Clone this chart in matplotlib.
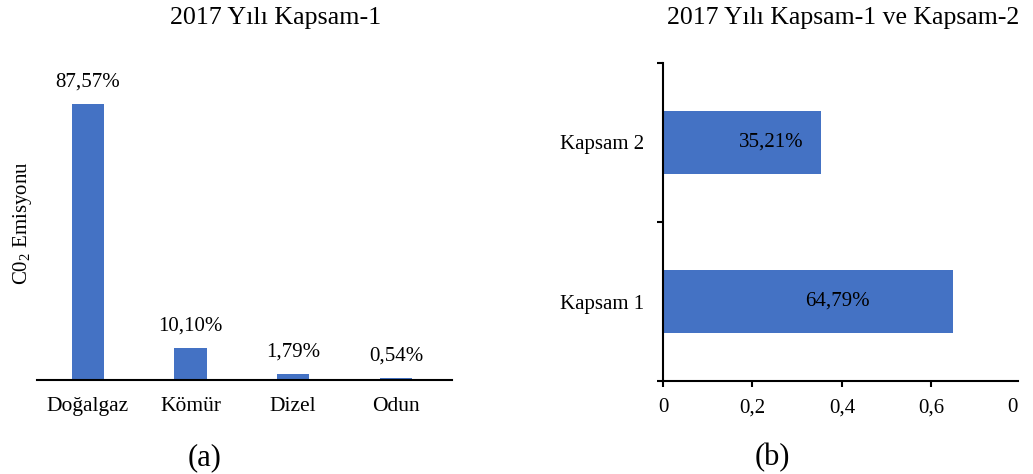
import matplotlib
matplotlib.use("Agg")
import matplotlib.pyplot as plt

plt.rcParams['font.family'] = ['Liberation Serif', 'DejaVu Serif']
plt.rcParams['mathtext.fontset'] = 'custom'
plt.rcParams['mathtext.rm'] = 'Liberation Serif'
plt.rcParams['mathtext.it'] = 'Liberation Serif:italic'

# Data
fuels = ["Doğalgaz", "Kömür", "Dizel", "Odun"]
fuel_share = [87.57, 10.10, 1.79, 0.54]
fuel_labels = ["87,57%", "10,10%", "1,79%", "0,54%"]

scopes = ["Kapsam 1", "Kapsam 2"]
scope_share = [0.6479, 0.3521]
scope_labels = ["64,79%", "35,21%"]
x_ticks_b = [0, 0.2, 0.4, 0.6, 0.782]
x_tick_labels_b = ["0", "0,2", "0,4", "0,6", "0"]

blue = "#4472C4"
fs = 15

fig = plt.figure(figsize=(10.33, 4.74), dpi=100)

# ---- (a) ----
ax1 = fig.add_axes([37/1033, 1-380/474, 415/1033, 320/474])
xs = list(range(len(fuels)))
ax1.bar(xs, fuel_share, width=0.315, color=blue)
ax1.set_xlim(-0.495, 3.546)
ax1.set_ylim(0, 320/3.152)
for s in ['top', 'right', 'left']:
    ax1.spines[s].set_visible(False)
ax1.spines['bottom'].set_linewidth(1.5)
ax1.set_yticks([])
ax1.set_xticks(xs)
ax1.set_xticklabels(fuels, fontsize=15.5)
ax1.tick_params(axis='x', length=0, pad=12)
for x, v, lab in zip(xs, fuel_share, fuel_labels):
    ax1.annotate(lab, (x, v), xytext=(0, 15.8), textcoords='offset points',
                 ha='center', va='center', fontsize=fs)
fig.text(276/1033, 1-18/474, "2017 Yılı Kapsam-1", ha='center', va='center', fontsize=18.7)
fig.text(22/1033, 1-223/474, r"C0$_{\mathregular{2}}$ Emisyonu", rotation=90,
         ha='center', va='center', fontsize=fs)
fig.text(205/1033, 1-458/474, "(a)", ha='center', va='center', fontsize=22)

# ---- (b) ----
ax2 = fig.add_axes([663/1033, 1-381/474, 355/1033, 318/474])
ys = list(range(len(scopes)))
ax2.barh(ys, scope_share, height=0.40, color=blue)
ax2.set_xlim(0, 0.7935)
ax2.set_ylim(-0.5, 1.5)
for s in ['top', 'right']:
    ax2.spines[s].set_visible(False)
for s in ['left', 'bottom']:
    ax2.spines[s].set_linewidth(1.5)
ax2.set_yticks(ys)
ax2.set_yticklabels(scopes, fontsize=fs)
ax2.tick_params(axis='y', which='major', length=0, pad=13.5)
ax2.set_yticks([-0.5, 0.5, 1.5], minor=True)
ax2.tick_params(axis='y', which='minor', length=4.5, width=1.5, direction='out')
ax2.set_xticks(x_ticks_b)
ax2.set_xticklabels(x_tick_labels_b, fontsize=fs)
ax2.tick_params(axis='x', length=4.5, width=1.5, pad=8)
ax2.xaxis.get_major_ticks()[-1].tick1line.set_visible(False)
for y, v, lab in zip(ys, scope_share, scope_labels):
    ax2.text(v/2 + 0.067, y, lab, ha='center', va='center', fontsize=fs)
fig.text(843/1033, 1-18/474, "2017 Yılı Kapsam-1 ve Kapsam-2", ha='center', va='center', fontsize=18.5)
fig.text(772/1033, 1-458/474, "(b)", ha='center', va='center', fontsize=22)

fig.savefig("out.png", dpi=100)
